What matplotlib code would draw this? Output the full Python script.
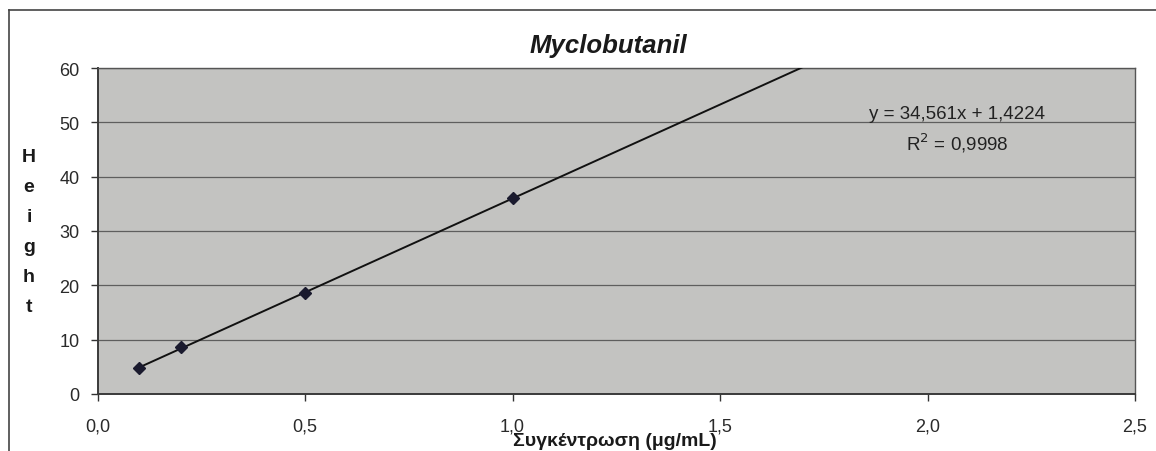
import numpy as np
import matplotlib
matplotlib.use("Agg")
import matplotlib.pyplot as plt
from matplotlib.lines import Line2D

plt.rcParams['font.family'] = ['Liberation Sans', 'DejaVu Sans']

# data
concentration = [0.1, 0.2, 0.5, 1.0]
height = [4.7, 8.6, 18.6, 36.0]
slope = 34.561
intercept = 1.4224
trend_x_end = 1.8
x_ticks = [0.0, 0.5, 1.0, 1.5, 2.0, 2.5]
x_tick_labels = ["0,0", "0,5", "1,0", "1,5", "2,0", "2,5"]
y_ticks = [0, 10, 20, 30, 40, 50, 60]
title = "Myclobutanil"
xlabel = "Συγκέντρωση (μg/mL)"
ylabel = "Height"
eq_text = "y = 34,561x + 1,4224"
r2_text = "R$^2$ = 0,9998"

W, H = 1156, 452
fig = plt.figure(figsize=(W / 100, H / 100), dpi=100)
fig.patch.set_facecolor('white')

left, right, top, bottom = 97.5, 1135, 69, 395
ax = fig.add_axes([left / W, 1 - bottom / H, (right - left) / W, (bottom - top) / H])
ax.set_facecolor('#c3c3c1')

ax.set_xlim(0, 2.5)
ax.set_ylim(0, 60)
ax.set_xticks(x_ticks)
ax.set_xticklabels(x_tick_labels)
ax.set_yticks(y_ticks)
ax.tick_params(axis='both', labelsize=13, colors='#333333', direction='out', length=5, width=1)
ax.tick_params(axis='x', pad=12)
ax.tick_params(axis='y', pad=8)
for lbl in ax.get_xticklabels() + ax.get_yticklabels():
    lbl.set_color('#2a2a2a')

ax.grid(axis='y', color='#5e5e5e', linewidth=0.9)
ax.set_axisbelow(True)
for side in ['left', 'bottom']:
    ax.spines[side].set_color('#3a3a3a')
    ax.spines[side].set_linewidth(1.4)
for side in ['top', 'right']:
    ax.spines[side].set_color('#555555')
    ax.spines[side].set_linewidth(1.0)

# trendline
tx = np.array([concentration[0], trend_x_end])
ax.plot(tx, slope * tx + intercept, color='#111111', linewidth=1.4, zorder=3)
# data points
ax.plot(concentration, height, linestyle='none', marker='D', markersize=6,
        color='#1a1a2e', zorder=4)

ax.text(2.071, 51.7, eq_text, fontsize=13.5, color='#222222', ha='center', va='center')
ax.text(2.071, 46.3, r2_text, fontsize=13.5, color='#222222', ha='center', va='center')

# title
fig.text(608 / W, 1 - 53 / H, title, fontsize=18.5, fontweight='bold', fontstyle='italic',
         ha='center', va='baseline', color='#1a1a1a')

# vertical stacked y label
for i, ch in enumerate(ylabel):
    fig.text(29 / W, 1 - (158 + i * 30) / H, ch, fontsize=14, fontweight='bold',
             ha='center', va='center', color='#1a1a1a')

# x label at the bottom edge
fig.text(615 / W, 1 - 446.5 / H, xlabel, fontsize=14, fontweight='bold',
         ha='center', va='baseline', color='#1a1a1a')

# outer frame lines
fig.add_artist(Line2D([9 / W, 1.0], [1 - 10.5 / H, 1 - 10.5 / H], transform=fig.transFigure,
                      color='#444444', linewidth=1.2))
fig.add_artist(Line2D([9 / W, 9 / W], [1 - 10.5 / H, 0], transform=fig.transFigure,
                      color='#444444', linewidth=1.2))

fig.savefig('out.png', dpi=100)
